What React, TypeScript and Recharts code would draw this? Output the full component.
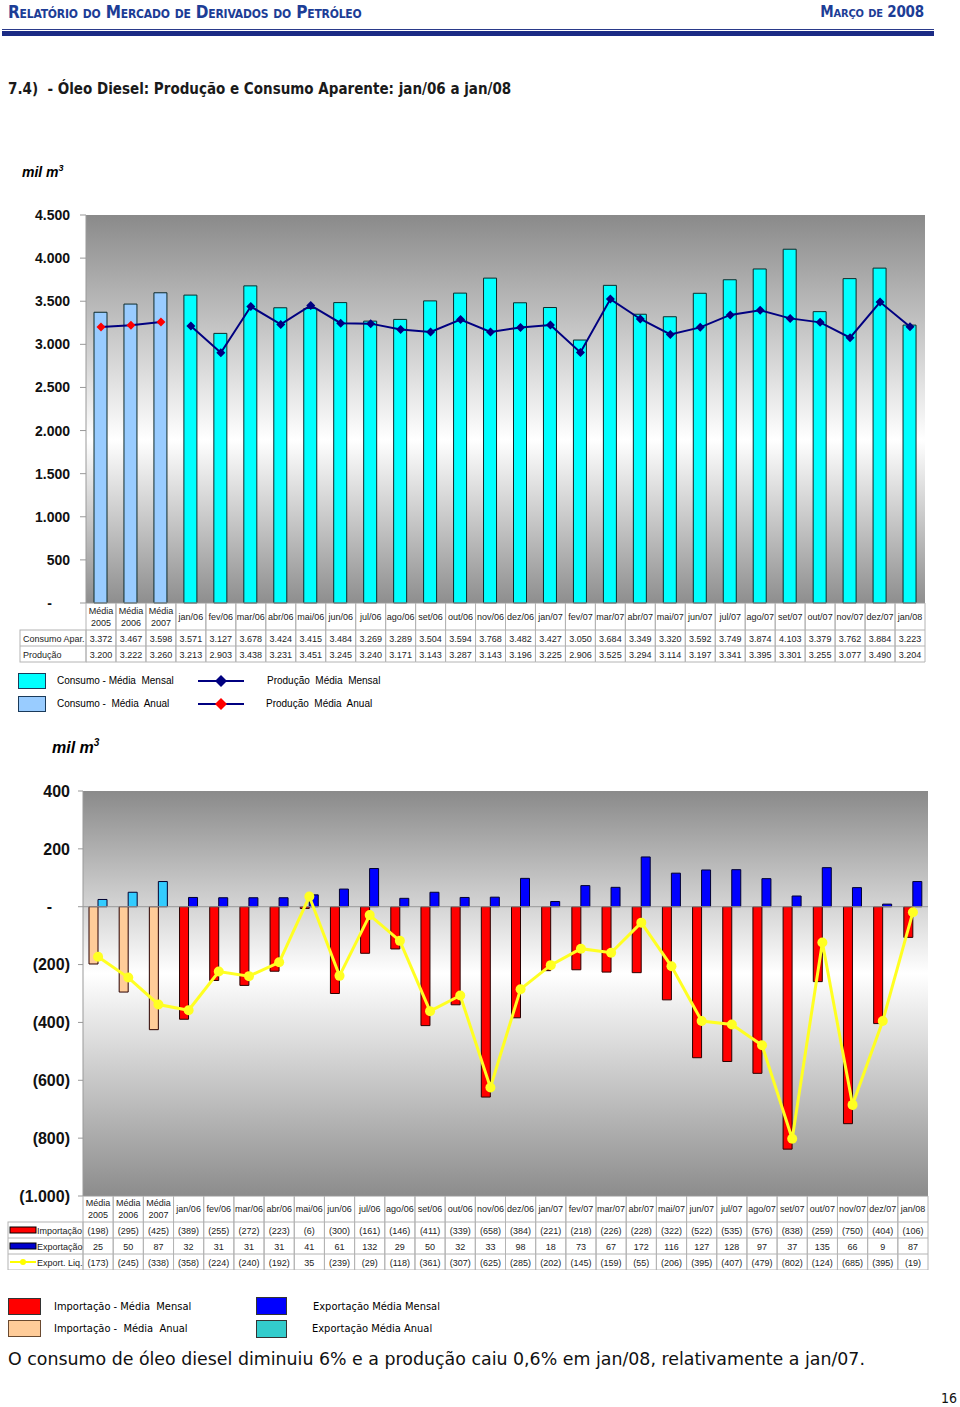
import React from 'react'
import {
  ComposedChart, Bar, Line, XAxis, YAxis, CartesianGrid, Cell, ReferenceLine,
} from 'recharts'

// categorias (3 médias anuais + 25 meses)
const categorias = [
  'Média 2005', 'Média 2006', 'Média 2007',
  'jan/06', 'fev/06', 'mar/06', 'abr/06', 'mai/06', 'jun/06', 'jul/06', 'ago/06', 'set/06', 'out/06', 'nov/06', 'dez/06',
  'jan/07', 'fev/07', 'mar/07', 'abr/07', 'mai/07', 'jun/07', 'jul/07', 'ago/07', 'set/07', 'out/07', 'nov/07', 'dez/07',
  'jan/08',
]

const consumo = [
  3372, 3467, 3598,
  3571, 3127, 3678, 3424, 3415, 3484, 3269, 3289, 3504, 3594, 3768, 3482,
  3427, 3050, 3684, 3349, 3320, 3592, 3749, 3874, 4103, 3379, 3762, 3884,
  3223,
]
const producao = [
  3200, 3222, 3260,
  3213, 2903, 3438, 3231, 3451, 3245, 3240, 3171, 3143, 3287, 3143, 3196,
  3225, 2906, 3525, 3294, 3114, 3197, 3341, 3395, 3301, 3255, 3077, 3490,
  3204,
]

const importacao = [
  -198, -295, -425,
  -389, -255, -272, -223, -6, -300, -161, -146, -411, -339, -658, -384,
  -221, -218, -226, -228, -322, -522, -535, -576, -838, -259, -750, -404,
  -106,
]
const exportacao = [
  25, 50, 87,
  32, 31, 31, 31, 41, 61, 132, 29, 50, 32, 33, 98,
  18, 73, 67, 172, 116, 127, 128, 97, 37, 135, 66, 9,
  87,
]
const exportLiq = [
  -173, -245, -338,
  -358, -224, -240, -192, 35, -239, -29, -118, -361, -307, -625, -285,
  -202, -145, -159, -55, -206, -395, -407, -479, -802, -124, -685, -395,
  -19,
]

const ticksTop = [0, 500, 1000, 1500, 2000, 2500, 3000, 3500, 4000, 4500]
const ticksBottom = [-1000, -800, -600, -400, -200, 0, 200, 400]

const N_ANUAIS = 3

const topData = categorias.map((c, i) => ({
  cat: c,
  consumo: consumo[i],
  prodAnual: i < N_ANUAIS ? producao[i] : null,
  prodMensal: i >= N_ANUAIS ? producao[i] : null,
}))

const bottomData = categorias.map((c, i) => ({
  cat: c,
  imp: importacao[i],
  exp: exportacao[i],
  liq: exportLiq[i],
}))

const FONT = 'Arial, "Liberation Sans", sans-serif'
const COND = '"DejaVu Sans Condensed", "DejaVu Sans", sans-serif'

function milhar(v: number) {
  const a = Math.abs(v)
  if (a >= 1000) return `${Math.floor(a / 1000)}.${String(a % 1000).padStart(3, '0')}`
  return String(a)
}
function fmtTop(v: number) {
  return v === 0 ? '-' : milhar(v)
}
function fmtBottom(v: number) {
  if (v === 0) return '-'
  return v < 0 ? `(${milhar(v)})` : milhar(v)
}

// geometria das áreas de plotagem
const TOP_LEFT = 86
const TOP_RIGHT = 925
const BOT_LEFT = 83
const BOT_RIGHT = 928
const TOP_BAND = (TOP_RIGHT - TOP_LEFT) / categorias.length
const BOT_BAND = (BOT_RIGHT - BOT_LEFT) / categorias.length

const GRID = '#b4b4b4'
const TXT = '#222'
const FS = 9

function YTick({ x, y, payload, fmt, size }: any) {
  const v = payload.value
  const dx = v === 0 ? -18 : 0
  return (
    <text x={x + dx} y={y} dy={size * 0.36} textAnchor="end" fontFamily={FONT}
      fontWeight="bold" fontSize={size} fill="#111">
      {fmt(v)}
    </text>
  )
}

function Diamond({ cx, cy, fill }: any) {
  if (cx == null || cy == null) return <g />
  const r = 4.5
  return <path d={`M${cx},${cy - r}L${cx + r},${cy}L${cx},${cy + r}L${cx - r},${cy}Z`} fill={fill} />
}

function HeaderText({ x, y, label, h }: any) {
  const parts = label.startsWith('Média') ? label.split(' ') : [label]
  if (parts.length === 2) {
    return (
      <text textAnchor="middle" fontFamily={FONT} fontSize={FS} fill={TXT}>
        <tspan x={x} y={y + h / 2 - 3}>{parts[0]}</tspan>
        <tspan x={x} y={y + h / 2 + 9}>{parts[1]}</tspan>
      </text>
    )
  }
  return (
    <text x={x} y={y + h / 2 + 3} textAnchor="middle" fontFamily={FONT} fontSize={FS} fill={TXT}>{parts[0]}</text>
  )
}

function TopTableTick({ x, y, payload }: any) {
  const i = payload.index
  const w = TOP_BAND
  const hh = 27
  const rh = 16
  const x0 = x - w / 2
  const rows = [consumo[i], producao[i]]
  const labelW = TOP_LEFT - 20
  return (
    <g>
      <line x1={x0} x2={x0} y1={y} y2={y + hh + rh * 2} stroke={GRID} />
      <line x1={x0 + w} x2={x0 + w} y1={y} y2={y + hh + rh * 2} stroke={GRID} />
      <line x1={x0} x2={x0 + w} y1={y + hh} y2={y + hh} stroke={GRID} />
      <line x1={x0} x2={x0 + w} y1={y + hh + rh} y2={y + hh + rh} stroke={GRID} />
      <line x1={x0} x2={x0 + w} y1={y + hh + rh * 2} y2={y + hh + rh * 2} stroke={GRID} />
      <HeaderText x={x} y={y} label={payload.value} h={hh} />
      {rows.map((v, k) => (
        <text key={k} x={x} y={y + hh + rh * k + 11.5} textAnchor="middle" fontFamily={FONT} fontSize={FS} fill={TXT}>
          {milhar(v)}
        </text>
      ))}
      {i === 0 && (
        <g>
          <rect x={x0 - labelW} y={y + hh} width={labelW} height={rh * 2} fill="none" stroke={GRID} />
          <line x1={x0 - labelW} x2={x0} y1={y + hh + rh} y2={y + hh + rh} stroke={GRID} />
          <text x={x0 - labelW + 3} y={y + hh + 11.5} fontFamily={FONT} fontSize={FS} fill={TXT}>Consumo Apar.</text>
          <text x={x0 - labelW + 3} y={y + hh + rh + 11.5} fontFamily={FONT} fontSize={FS} fill={TXT}>Produção</text>
        </g>
      )}
    </g>
  )
}

function BottomTableTick({ x, y, payload }: any) {
  const i = payload.index
  const w = BOT_BAND
  const hh = 26
  const rh = 16
  const x0 = x - w / 2
  const rows = [importacao[i], exportacao[i], exportLiq[i]]
  const labelW = BOT_LEFT - 8
  const bottom = y + hh + rh * 3
  const lx = x0 - labelW
  return (
    <g>
      <line x1={x0} x2={x0} y1={y} y2={bottom} stroke={GRID} />
      <line x1={x0 + w} x2={x0 + w} y1={y} y2={bottom} stroke={GRID} />
      {[0, 1, 2, 3].map((k) => (
        <line key={k} x1={x0} x2={x0 + w} y1={y + hh + rh * k} y2={y + hh + rh * k} stroke={GRID} />
      ))}
      <HeaderText x={x} y={y} label={payload.value} h={hh} />
      {rows.map((v, k) => (
        <text key={k} x={x} y={y + hh + rh * k + 11.5} textAnchor="middle" fontFamily={FONT} fontSize={FS} fill={TXT}>
          {fmtBottom(v)}
        </text>
      ))}
      {i === 0 && (
        <g>
          <rect x={lx} y={y + hh} width={labelW} height={rh * 3} fill="none" stroke={GRID} />
          <line x1={lx} x2={x0} y1={y + hh + rh} y2={y + hh + rh} stroke={GRID} />
          <line x1={lx} x2={x0} y1={y + hh + rh * 2} y2={y + hh + rh * 2} stroke={GRID} />
          <rect x={lx + 2} y={y + hh + 5} width={26} height={6} fill="#FF0000" stroke="#000" />
          <rect x={lx + 2} y={y + hh + rh + 5} width={26} height={6} fill="#0000CC" stroke="#000" />
          <line x1={lx + 2} x2={lx + 28} y1={y + hh + rh * 2 + 8} y2={y + hh + rh * 2 + 8} stroke="#FFFF00" strokeWidth={2} />
          <circle cx={lx + 15} cy={y + hh + rh * 2 + 8} r={3} fill="#FFFF00" />
          <text x={lx + 29} y={y + hh + 11.5} fontFamily={FONT} fontSize={FS} fill={TXT}>Importação</text>
          <text x={lx + 29} y={y + hh + rh + 11.5} fontFamily={FONT} fontSize={FS} fill={TXT}>Exportação</text>
          <text x={lx + 29} y={y + hh + rh * 2 + 11.5} fontFamily={FONT} fontSize={FS} fill={TXT}>Export. Liq.</text>
        </g>
      )}
    </g>
  )
}

function Swatch({ left, top, w, h, color, border = '#222' }: any) {
  return <div style={{ position: 'absolute', left, top, width: w, height: h, background: color, border: `1px solid ${border}`, boxSizing: 'border-box' }} />
}

function Txt({ left, top, size, children, style }: any) {
  return <div style={{ position: 'absolute', left, top, fontSize: size, lineHeight: 1, whiteSpace: 'nowrap', ...style }}>{children}</div>
}

function LineKey({ left, top, fill }: any) {
  return (
    <svg style={{ position: 'absolute', left, top }} width={48} height={14}>
      <line x1={1} x2={47} y1={7} y2={7} stroke="#000080" strokeWidth={2} />
      <path d="M24,1L30,7L24,13L18,7Z" fill={fill} />
    </svg>
  )
}

export default function App() {
  return (
    <div style={{ position: 'absolute', left: 0, top: 0, width: 960, height: 1407, background: '#fff', overflow: 'hidden', fontFamily: FONT }}>
      {/* cabeçalho */}
      <Txt left={8} top={4} size={17} style={{ fontFamily: COND, fontWeight: 'bold', fontVariant: 'small-caps', color: '#1d3d96', letterSpacing: -0.2 }}>
        Relatório do Mercado de Derivados do Petróleo
      </Txt>
      <Txt left={0} top={5} size={15} style={{ width: 924, textAlign: 'right', fontFamily: COND, fontWeight: 'bold', fontVariant: 'small-caps', color: '#1d3d96', letterSpacing: -0.2 }}>
        Março de 2008
      </Txt>
      <div style={{ position: 'absolute', left: 2, top: 29, width: 932, height: 1, background: '#2a3a8a' }} />
      <div style={{ position: 'absolute', left: 2, top: 31, width: 932, height: 5, background: '#1b2b85' }} />

      <Txt left={8} top={82} size={15} style={{ fontFamily: COND, fontWeight: 'bold', color: '#1a1a1a' }}>
        7.4)&nbsp; - Óleo Diesel: Produção e Consumo Aparente: jan/06 a jan/08
      </Txt>

      <Txt left={22} top={164} size={14} style={{ fontWeight: 'bold', fontStyle: 'italic' }}>
        mil m<sup style={{ fontSize: 9, verticalAlign: 6 }}>3</sup>
      </Txt>

      {/* gráfico 1: consumo aparente x produção */}
      <div style={{ position: 'absolute', left: 0, top: 200 }}>
        <ComposedChart width={940} height={463} data={topData} margin={{ top: 15, right: 940 - TOP_RIGHT, left: 0, bottom: 0 }} barSize={13}>
          <defs>
            <linearGradient id="bgTop" x1="0" y1="0" x2="0" y2="1">
              <stop offset="0%" stopColor="#8a8a8a" />
              <stop offset="58%" stopColor="#ffffff" />
              <stop offset="100%" stopColor="#8e8e8e" />
            </linearGradient>
          </defs>
          <CartesianGrid horizontal={false} vertical={false} fill="url(#bgTop)" stroke="none" />
          <XAxis dataKey="cat" interval={0} height={60} tickSize={0} tickMargin={0} axisLine={{ stroke: '#999' }}
            tick={<TopTableTick />} />
          <YAxis width={TOP_LEFT} domain={[0, 4500]} ticks={ticksTop} interval={0} tickSize={6} tickMargin={10}
            axisLine={{ stroke: '#999' }} tickLine={{ stroke: '#999' }}
            tick={<YTick fmt={fmtTop} size={14} />} />
          <Bar dataKey="consumo" isAnimationActive={false} stroke="#0d2a2a" strokeWidth={1}>
            {topData.map((_, i) => (
              <Cell key={i} fill={i < N_ANUAIS ? '#99CCFF' : '#00FFFF'} />
            ))}
          </Bar>
          <Line dataKey="prodAnual" stroke="#000080" strokeWidth={2} isAnimationActive={false}
            dot={<Diamond fill="#FF0000" />} activeDot={false} />
          <Line dataKey="prodMensal" stroke="#000080" strokeWidth={2} isAnimationActive={false}
            dot={<Diamond fill="#000080" />} activeDot={false} />
        </ComposedChart>
      </div>

      {/* legenda 1 */}
      <Swatch left={18} top={673} w={28} h={16} color="#00FFFF" border="#1a3a5a" />
      <Txt left={57} top={676} size={10}>Consumo - Média&nbsp; Mensal</Txt>
      <Swatch left={18} top={696} w={28} h={16} color="#99CCFF" border="#1a3a5a" />
      <Txt left={57} top={699} size={10}>Consumo -&nbsp; Média&nbsp; Anual</Txt>
      <LineKey left={197} top={674} fill="#000080" />
      <Txt left={267} top={676} size={10}>Produção&nbsp; Média&nbsp; Mensal</Txt>
      <LineKey left={197} top={697} fill="#FF0000" />
      <Txt left={266} top={699} size={10}>Produção&nbsp; Média&nbsp; Anual</Txt>

      <Txt left={52} top={738} size={16} style={{ fontWeight: 'bold', fontStyle: 'italic' }}>
        mil m<sup style={{ fontSize: 10, verticalAlign: 7 }}>3</sup>
      </Txt>

      {/* gráfico 2: importação, exportação e exportação líquida */}
      <div style={{ position: 'absolute', left: 0, top: 780 }}>
        <ComposedChart width={940} height={490} data={bottomData} margin={{ top: 11, right: 940 - BOT_RIGHT, left: 0, bottom: 0 }}
          barSize={9} barGap={0}>
          <defs>
            <linearGradient id="bgBot" x1="0" y1="0" x2="0" y2="1">
              <stop offset="0%" stopColor="#8a8a8a" />
              <stop offset="45%" stopColor="#ffffff" />
              <stop offset="100%" stopColor="#8c8c8c" />
            </linearGradient>
          </defs>
          <CartesianGrid horizontal={false} vertical={false} fill="url(#bgBot)" stroke="none" />
          <XAxis dataKey="cat" interval={0} height={74} tickSize={0} tickMargin={0} axisLine={{ stroke: '#999' }}
            tick={<BottomTableTick />} />
          <YAxis width={BOT_LEFT} domain={[-1000, 400]} ticks={ticksBottom} interval={0} tickSize={5} tickMargin={8}
            axisLine={{ stroke: '#999' }} tickLine={{ stroke: '#999' }}
            tick={<YTick fmt={fmtBottom} size={16} />} />
          <ReferenceLine y={0} stroke="#999" />
          <Bar dataKey="imp" isAnimationActive={false} stroke="#2a0000" strokeWidth={1}>
            {bottomData.map((_, i) => (
              <Cell key={i} fill={i < N_ANUAIS ? '#FFCC99' : '#FF0000'} />
            ))}
          </Bar>
          <Bar dataKey="exp" isAnimationActive={false} stroke="#000030" strokeWidth={1}>
            {bottomData.map((_, i) => (
              <Cell key={i} fill={i < N_ANUAIS ? '#33CCFF' : '#0000FF'} />
            ))}
          </Bar>
          <Line dataKey="liq" stroke="#FFFF22" strokeWidth={3} isAnimationActive={false}
            dot={{ r: 5, fill: '#FFFF22', stroke: 'none' }} activeDot={false} />
        </ComposedChart>
      </div>

      {/* legenda 2 */}
      <Swatch left={8} top={1298} w={33} h={17} color="#FF0000" border="#333" />
      <Txt left={54} top={1301} size={11} style={{ fontFamily: COND }}>Importação - Média&nbsp; Mensal</Txt>
      <Swatch left={8} top={1320} w={33} h={17} color="#FFCC99" border="#6a4a30" />
      <Txt left={54} top={1323} size={11} style={{ fontFamily: COND }}>Importação -&nbsp; Média&nbsp; Anual</Txt>
      <Swatch left={256} top={1297} w={31} h={18} color="#0000FF" border="#333" />
      <Txt left={313} top={1301} size={11} style={{ fontFamily: COND }}>Exportação Média Mensal</Txt>
      <Swatch left={256} top={1320} w={31} h={18} color="#33CCCC" border="#333" />
      <Txt left={312} top={1323} size={11} style={{ fontFamily: COND }}>Exportação Média Anual</Txt>

      <Txt left={8} top={1351} size={17.4} style={{ fontFamily: '"DejaVu Sans", sans-serif', color: '#111' }}>
        O consumo de óleo diesel diminuiu 6% e a produção caiu 0,6% em jan/08, relativamente a jan/07.
      </Txt>
      <Txt left={941} top={1391} size={14} style={{ fontFamily: COND, color: '#111' }}>16</Txt>
    </div>
  )
}
